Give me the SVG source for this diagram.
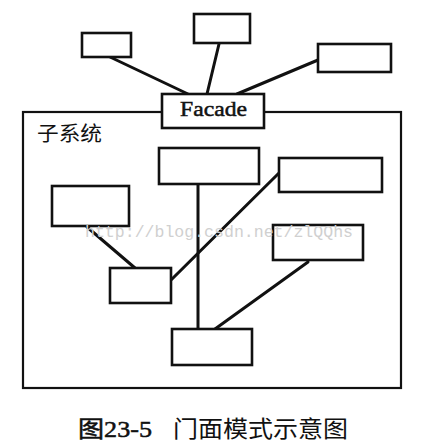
<svg xmlns="http://www.w3.org/2000/svg" width="421" height="444" viewBox="0 0 421 444">
<style>
.box{fill:#fff;stroke:#111;stroke-width:2.6}
.frame{fill:none;stroke:#111;stroke-width:2.2}
.conn line{stroke:#111;stroke-width:3;stroke-linecap:round}
.wm{font-family:'Liberation Mono',monospace;fill:#d0d0d0;font-size:16.5px}
</style>
<rect width="421" height="444" fill="#fff"/>
<g id="subsystem">
<rect class="frame" x="23" y="112" width="378" height="276"/>
<text x="37" y="141" font-family="'Noto Sans CJK SC', sans-serif" font-size="20" fill="#111" textLength="65" lengthAdjust="spacingAndGlyphs">子系统</text>
</g>
<g class="conn" id="connectors">
<line x1="110" y1="57" x2="188" y2="94"/>
<line x1="219" y1="44" x2="207" y2="94"/>
<line x1="318" y1="60" x2="237" y2="94"/>
<line x1="198" y1="184" x2="198" y2="329"/>
<line x1="87" y1="227" x2="135" y2="268"/>
<line x1="171" y1="280" x2="279" y2="173"/>
<line x1="308" y1="262" x2="215" y2="329"/>
</g>
<g id="client1"><rect class="box" x="82" y="33" width="49" height="24"/></g>
<g id="client2"><rect class="box" x="194" y="14" width="56" height="29"/></g>
<g id="client3"><rect class="box" x="318" y="44" width="73" height="28"/></g>
<g id="facade">
<rect class="box" x="162" y="94" width="102" height="34"/>
<text x="180" y="116" font-family="'Liberation Serif', 'Times New Roman', serif" font-size="21" fill="#111" stroke="#111" stroke-width="0.5" textLength="67" lengthAdjust="spacingAndGlyphs">Facade</text>
</g>
<g id="sub1"><rect class="box" x="159" y="148" width="100" height="36"/></g>
<g id="sub2"><rect class="box" x="279" y="158" width="103" height="34"/></g>
<g id="sub3"><rect class="box" x="52" y="186" width="77" height="40"/></g>
<g id="sub4"><rect class="box" x="273" y="225" width="90" height="35"/></g>
<g id="sub5"><rect class="box" x="110" y="268" width="61" height="35"/></g>
<g id="sub6"><rect class="box" x="172" y="329" width="80" height="36"/></g>
<text class="wm" x="85" y="237" textLength="268" lengthAdjust="spacingAndGlyphs">http://blog.csdn.net/zlQQhs</text>
<text font-family="'Liberation Serif', 'Noto Sans CJK SC', serif" font-size="23" fill="#111" y="437"><tspan x="78" stroke="#111" stroke-width="0.5" textLength="74" lengthAdjust="spacingAndGlyphs">图23-5</tspan><tspan x="173" textLength="175" lengthAdjust="spacingAndGlyphs">门面模式示意图</tspan></text>
</svg>
